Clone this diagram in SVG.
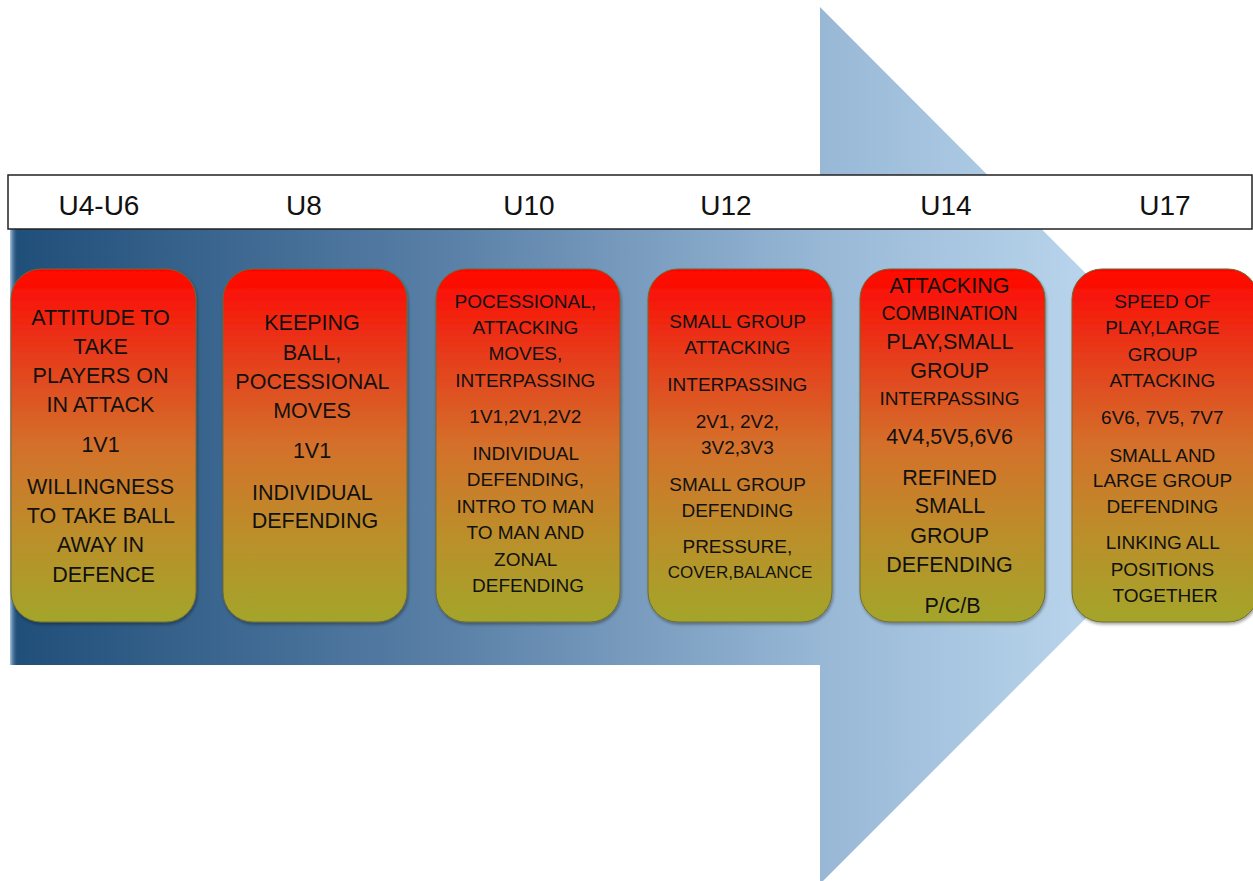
<svg xmlns="http://www.w3.org/2000/svg" width="1253" height="881" viewBox="0 0 1253 881">
<defs>
<linearGradient id="arrowGrad" gradientUnits="userSpaceOnUse" x1="10" y1="0" x2="1110" y2="0">
<stop offset="0" stop-color="#1f4e79"/>
<stop offset="0.4" stop-color="#5a80a7"/>
<stop offset="0.74" stop-color="#98b8d6"/>
<stop offset="1" stop-color="#bcd7ee"/>
</linearGradient>
<linearGradient id="edgeGrad" x1="0" y1="0" x2="1" y2="0">
<stop offset="0" stop-color="#a9c6e2"/>
<stop offset="1" stop-color="#1f4e79" stop-opacity="0"/>
</linearGradient>
<linearGradient id="boxGrad" x1="0" y1="0" x2="0" y2="1">
<stop offset="0" stop-color="#ff0500"/>
<stop offset="0.25" stop-color="#e63d1c"/>
<stop offset="0.5" stop-color="#d4702a"/>
<stop offset="0.75" stop-color="#bc8e2a"/>
<stop offset="1" stop-color="#a3a52a"/>
</linearGradient>
<filter id="shadow" x="-10%" y="-10%" width="120%" height="120%">
<feDropShadow dx="1" dy="2" stdDeviation="1.5" flood-color="#000" flood-opacity="0.35"/>
</filter>
</defs>
<style>
.box{fill:url(#boxGrad);stroke:#6e6a34;stroke-width:1;filter:url(#shadow)}
.hdr{font-family:"Liberation Sans",Arial,sans-serif;font-size:28px;fill:#111;text-anchor:middle}
.t{font-family:"Liberation Sans",Arial,sans-serif;fill:#111;text-anchor:middle}
.f22{font-size:21.5px}
.f20{font-size:19.5px}
.f19{font-size:19px}
.f17{font-size:17px}
</style>
<g id="arrow">
<polygon points="10,229 820,229 820,7 1258,446 820,884 820,665 10,665" fill="url(#arrowGrad)"/>
<rect x="10" y="229" width="8" height="436" fill="url(#edgeGrad)"/>
</g>
<g id="header">
<rect x="8" y="175" width="1244" height="54" fill="#fff" stroke="#222" stroke-width="1.5"/>
<text class="hdr" x="99" y="215">U4-U6</text>
<text class="hdr" x="304" y="215">U8</text>
<text class="hdr" x="529" y="215">U10</text>
<text class="hdr" x="726" y="215">U12</text>
<text class="hdr" x="946" y="215">U14</text>
<text class="hdr" x="1165" y="215">U17</text>
</g>
<g id="box1">
<rect class="box" x="11" y="269" width="185" height="353" rx="30"/>
<text class="t f22">
<tspan x="103.5" y="325">ATTITUDE TO</tspan>
<tspan x="103.5" y="354">TAKE</tspan>
<tspan x="103.5" y="383">PLAYERS ON</tspan>
<tspan x="103.5" y="412">IN ATTACK</tspan>
<tspan x="103.5" y="452">1V1</tspan>
<tspan x="103.5" y="494">WILLINGNESS</tspan>
<tspan x="103.5" y="523">TO TAKE BALL</tspan>
<tspan x="103.5" y="552">AWAY IN</tspan>
<tspan x="103.5" y="582">DEFENCE</tspan>
</text>
</g>
<g id="box2">
<rect class="box" x="223" y="269" width="184" height="353" rx="30"/>
<text class="t f22">
<tspan x="315" y="330">KEEPING</tspan>
<tspan x="315" y="360">BALL,</tspan>
<tspan x="315" y="389">POCESSIONAL</tspan>
<tspan x="315" y="418">MOVES</tspan>
<tspan x="315" y="458">1V1</tspan>
<tspan x="315" y="500">INDIVIDUAL</tspan>
<tspan x="315" y="528">DEFENDING</tspan>
</text>
</g>
<g id="box3">
<rect class="box" x="436" y="269" width="184" height="353" rx="30"/>
<text class="t f19">
<tspan x="528" y="308">POCESSIONAL,</tspan>
<tspan x="528" y="334">ATTACKING</tspan>
<tspan x="528" y="360">MOVES,</tspan>
<tspan x="528" y="387">INTERPASSING</tspan>
<tspan x="528" y="423">1V1,2V1,2V2</tspan>
<tspan x="528" y="460">INDIVIDUAL</tspan>
<tspan x="528" y="486">DEFENDING,</tspan>
<tspan x="528" y="513">INTRO TO MAN</tspan>
<tspan x="528" y="539">TO MAN AND</tspan>
<tspan x="528" y="566">ZONAL</tspan>
<tspan x="528" y="592">DEFENDING</tspan>
</text>
</g>
<g id="box4">
<rect class="box" x="648" y="269" width="184" height="353" rx="30"/>
<text class="t f19">
<tspan x="740" y="328">SMALL GROUP</tspan>
<tspan x="740" y="354">ATTACKING</tspan>
<tspan x="740" y="391">INTERPASSING</tspan>
<tspan x="740" y="428">2V1, 2V2,</tspan>
<tspan x="740" y="454">3V2,3V3</tspan>
<tspan x="740" y="491">SMALL GROUP</tspan>
<tspan x="740" y="517">DEFENDING</tspan>
<tspan x="740" y="553">PRESSURE,</tspan>
<tspan x="740" y="578" class="f17">COVER,BALANCE</tspan>
</text>
</g>
<g id="box5">
<rect class="box" x="860" y="269" width="185" height="353" rx="30"/>
<text class="t f22">
<tspan x="952.5" y="293">ATTACKING</tspan>
<tspan x="952.5" y="320" class="f20">COMBINATION</tspan>
<tspan x="952.5" y="349">PLAY,SMALL</tspan>
<tspan x="952.5" y="378">GROUP</tspan>
<tspan x="952.5" y="405" class="f19">INTERPASSING</tspan>
<tspan x="952.5" y="444">4V4,5V5,6V6</tspan>
<tspan x="952.5" y="485">REFINED</tspan>
<tspan x="952.5" y="513">SMALL</tspan>
<tspan x="952.5" y="543">GROUP</tspan>
<tspan x="952.5" y="572">DEFENDING</tspan>
<tspan x="952.5" y="613">P/C/B</tspan>
</text>
</g>
<g id="box6">
<rect class="box" x="1072" y="269" width="186" height="353" rx="30"/>
<text class="t f19">
<tspan x="1165" y="308">SPEED OF</tspan>
<tspan x="1165" y="334">PLAY,LARGE</tspan>
<tspan x="1165" y="361">GROUP</tspan>
<tspan x="1165" y="387">ATTACKING</tspan>
<tspan x="1165" y="424">6V6, 7V5, 7V7</tspan>
<tspan x="1165" y="462">SMALL AND</tspan>
<tspan x="1165" y="487">LARGE GROUP</tspan>
<tspan x="1165" y="513">DEFENDING</tspan>
<tspan x="1165" y="549">LINKING ALL</tspan>
<tspan x="1165" y="576">POSITIONS</tspan>
<tspan x="1165" y="602">TOGETHER</tspan>
</text>
</g>
<g id="connectors"/>
</svg>
